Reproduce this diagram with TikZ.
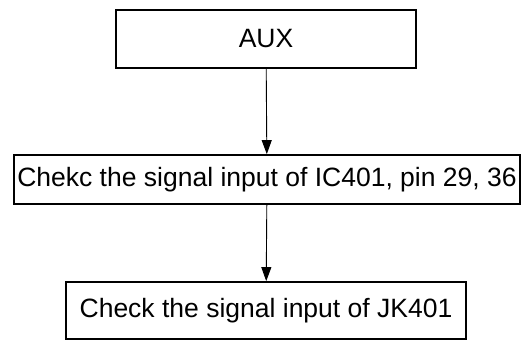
\documentclass[tikz,border=0pt]{standalone}
\usepackage{fontspec}
\setmainfont{Liberation Sans}
\usetikzlibrary{arrows.meta}

\tikzset{
	box/.style = {draw, line width=1.8pt, inner sep=0pt,
		font=\fontsize{26.5}{30}\selectfont},
	flow/.style = {-{Triangle[length=14pt,width=10pt]}, line width=0.9pt}
}

\begin{document}
\begin{tikzpicture}[x=1pt, y=1pt]
	\useasboundingbox (0, 0) rectangle (530, -341);

	\node[box, minimum width=300, minimum height=58] (aux) at (266, -39) {AUX};
	\node[box, minimum width=506, minimum height=49] (ic) at (267, -179.5) {Chekc the signal input of IC401, pin 29, 36};
	\node[box, minimum width=400, minimum height=57] (jk) at (266, -310.5) {Check the signal input of JK401};

	\draw [flow] (aux) -- (ic);
	\draw [flow] (ic) -- (jk);
\end{tikzpicture}
\end{document}
